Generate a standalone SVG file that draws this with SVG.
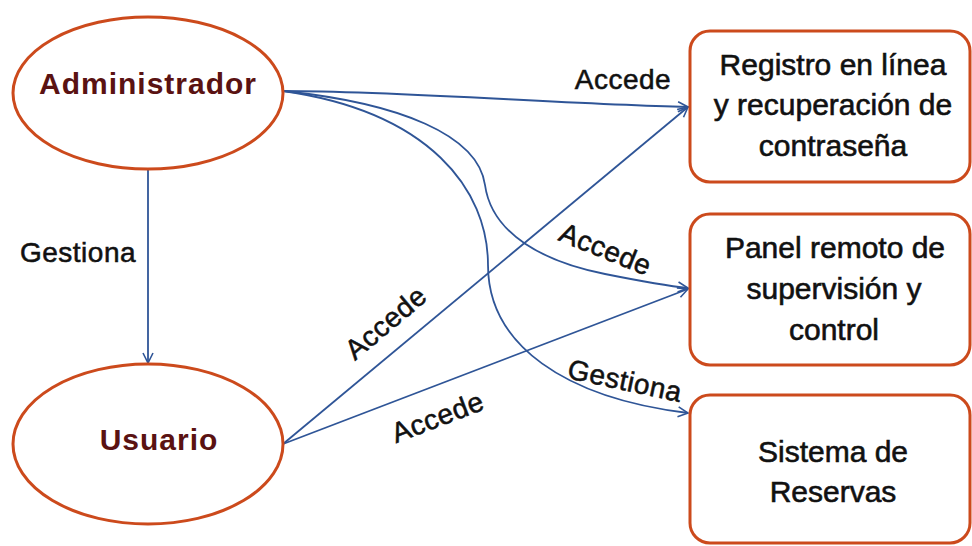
<svg xmlns="http://www.w3.org/2000/svg" width="972" height="546" viewBox="0 0 972 546">
  <style>
    .actor { fill: #ffffff; stroke: #cc4a1c; stroke-width: 3; }
    .actor-label { font-family: "Liberation Sans", Arial, sans-serif; font-size: 30px; font-weight: bold; fill: #5a1212; text-anchor: middle; letter-spacing: 1px; }
    .box { fill: #ffffff; stroke: #cc4a1c; stroke-width: 3; }
    .box-label { font-family: "Liberation Sans", Arial, sans-serif; font-size: 30px; fill: #111111; text-anchor: middle; stroke: #111111; stroke-width: 0.6; }
    .edge { fill: none; stroke: #2f5597; stroke-width: 1.8; marker-end: url(#open-arrow); }
    .edge-label { font-family: "Liberation Sans", Arial, sans-serif; font-size: 28px; fill: #111111; text-anchor: middle; stroke: #111111; stroke-width: 0.55; letter-spacing: 0.5px; }
  </style>
  <defs>
    <marker id="open-arrow" viewBox="0 0 12 12" refX="11" refY="6" markerWidth="12" markerHeight="12" markerUnits="userSpaceOnUse" orient="auto">
      <path d="M1,1 L11,6 L1,11" fill="none" stroke="#2f5597" stroke-width="1.6"/>
    </marker>
  </defs>

  <rect width="972" height="546" fill="#ffffff"/>

  <!-- connectors -->
  <g id="connectors">
    <!-- Administrador gestiona Usuario -->
    <path class="edge" d="M148,170 L148,363"/>
    <text class="edge-label" x="78" y="262">Gestiona</text>

    <!-- Administrador accede al registro -->
    <path class="edge" d="M283,91 C400,91 560,104 688,107"/>
    <text class="edge-label" x="623" y="89">Accede</text>

    <!-- Administrador accede al panel -->
    <path class="edge" d="M283,91 C400,103 478,135 485,185 C492,235 545,262 605,274 C640,281 668,286 688,288"/>
    <text class="edge-label" transform="translate(602,258) rotate(22)">Accede</text>

    <!-- Administrador gestiona el sistema de reservas -->
    <path class="edge" d="M283,91 C430,112 488,190 488,265 C488,345 565,398 688,413"/>
    <text class="edge-label" transform="translate(623,390) rotate(12)">Gestiona</text>

    <!-- Usuario accede al registro -->
    <path class="edge" d="M283,444 L688,107"/>
    <text class="edge-label" transform="translate(392,330) rotate(-40)">Accede</text>

    <!-- Usuario accede al panel -->
    <path class="edge" d="M283,444 L688,289"/>
    <text class="edge-label" transform="translate(441,426) rotate(-21)">Accede</text>
  </g>

  <!-- actors -->
  <g id="administrador">
    <ellipse class="actor" cx="148" cy="93" rx="135" ry="76"/>
    <text class="actor-label" x="148" y="94">Administrador</text>
  </g>
  <g id="usuario">
    <ellipse class="actor" cx="148" cy="444" rx="135" ry="80"/>
    <text class="actor-label" x="159" y="450">Usuario</text>
  </g>

  <!-- system modules -->
  <g id="registro">
    <rect class="box" x="690" y="31" width="280" height="151" rx="20"/>
    <text class="box-label" x="833" y="75">Registro en línea</text>
    <text class="box-label" x="833" y="115">y recuperación de</text>
    <text class="box-label" x="833" y="156">contraseña</text>
  </g>
  <g id="panel">
    <rect class="box" x="690" y="214" width="280" height="151" rx="20"/>
    <text class="box-label" x="835" y="258">Panel remoto de</text>
    <text class="box-label" x="834" y="299">supervisión y</text>
    <text class="box-label" x="834" y="340">control</text>
  </g>
  <g id="reservas">
    <rect class="box" x="690" y="395" width="280" height="148" rx="20"/>
    <text class="box-label" x="833" y="462">Sistema de</text>
    <text class="box-label" x="833" y="502">Reservas</text>
  </g>
</svg>
